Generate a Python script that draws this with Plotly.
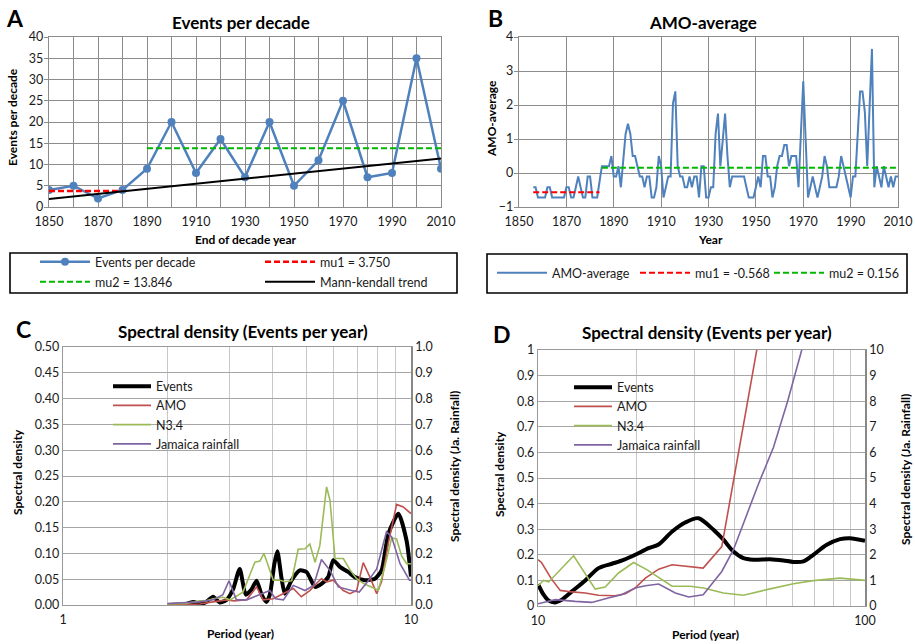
import plotly.graph_objects as go

W, H = 915, 644
def px(x): return x / W
def py(y): return 1 - y / H

FONT = "Lato, 'Open Sans', sans-serif"
TXT = "#1a1a1a"

# ---------------- Panel A: events per decade ----------------
decade_years = [1850, 1860, 1870, 1880, 1890, 1900, 1910, 1920, 1930, 1940,
                1950, 1960, 1970, 1980, 1990, 2000, 2010]
events_per_decade = [4, 5, 2, 4, 9, 20, 8, 16, 7, 20, 5, 11, 25, 7, 8, 35, 9]
mu1_a_years = [1850, 1880]
mu1_a = 3.750
mu2_a_years = [1890, 2010]
mu2_a = 13.846
trend_years = [1850, 2010]
trend_vals = [1.9, 11.4]

# ---------------- Panel B: AMO-average ----------------
amo_start = 1856
amo_vals = [
    -0.42, -0.42, -0.72, -0.72, -0.72, -0.72, -0.42, -0.42, -0.72, -0.72,   # 1856-1865
    -0.72, -0.72, -0.72, -0.72, -0.42, -0.42, -0.72, -0.72, -0.42, -0.10,   # 1866-1875
    -0.42, -0.72, -0.72, -0.10, -0.10, -0.72, -0.72, -0.72, -0.25, 0.20,    # 1876-1885
    0.20, 0.20, 0.20, 0.50, -0.10, -0.10, 0.20, -0.42, 0.50, 1.15,          # 1886-1895
    1.45, 1.15, 0.50, 0.50, 0.20, -0.10, -0.10, -0.42, -0.10, -0.10,        # 1896-1905
    -0.72, -0.72, -0.42, 0.50, 0.20, -0.72, -0.42, -0.10, -0.10, 2.05,      # 1906-1915
    2.40, 0.20, -0.10, -0.10, -0.42, -0.42, -0.10, -0.42, -0.10, -0.10,     # 1916-1925
    -0.72, 0.20, 0.20, -0.72, -0.72, -0.42, -0.42, 1.15, 1.75, 0.20,        # 1926-1935
    0.95, 1.75, 0.50, -0.42, -0.10, -0.10, -0.10, -0.10, -0.10, -0.10,      # 1936-1945
    -0.42, -0.72, -0.72, -0.72, -0.42, -0.10, -0.42, 0.50, 0.50, -0.10,     # 1946-1955
    -0.10, -0.72, -0.42, 0.20, 0.50, 0.50, 0.82, 0.82, 0.20, 0.50,          # 1956-1965
    0.50, 0.50, -0.42, 1.15, 2.70, 1.00, -0.72, -0.42, -0.10, -0.42,        # 1966-1975
    -0.72, -0.42, -0.10, 0.50, 0.20, -0.42, -0.42, -0.42, -0.42, -0.10,     # 1976-1985
    0.50, 0.20, -0.10, -0.42, -0.72, -0.10, -0.10, 1.15, 2.40, 2.40,        # 1986-1995
    1.80, 0.20, 2.00, 3.65, -0.42, 0.20, -0.10, -0.42, 0.20, -0.10,         # 1996-2005
    -0.42, -0.10, -0.42, -0.10, -0.10,                                      # 2006-2010
]
amo_years = list(range(amo_start, amo_start + len(amo_vals)))
mu1_b_years = [1856, 1884]
mu1_b = -0.568
mu2_b_years = [1885, 2010]
mu2_b = 0.156

# ---------------- Panel C: spectral density, periods 1-10 yr ----------------
ev_c_period = [2.00, 2.26, 2.37, 2.47, 2.58, 2.70, 2.82, 2.95, 3.08, 3.22, 3.35, 3.48,
               3.60, 3.72, 3.84, 3.93, 4.05, 4.13, 4.25, 4.34, 4.54, 4.79, 5.01, 5.30,
               5.53, 5.78, 5.98, 6.25, 6.60, 6.90, 7.37, 7.88, 8.23, 8.61, 9.20, 9.71, 10.0]
ev_c = [0.000, 0.002, 0.006, 0.002, 0.006, 0.016, 0.005, 0.010, 0.030, 0.070, 0.020, 0.030,
        0.047, 0.020, 0.006, 0.020, 0.080, 0.104, 0.050, 0.022, 0.048, 0.067, 0.064, 0.035,
        0.041, 0.054, 0.087, 0.074, 0.064, 0.054, 0.048, 0.051, 0.067, 0.138, 0.177, 0.125, 0.055]

amo_c_period = [2.00, 2.47, 2.70, 2.95, 3.10, 3.37, 3.60, 3.76, 4.02, 4.30, 4.59, 4.84, 5.12,
                5.41, 5.53, 5.72, 5.98, 6.39, 6.68, 6.98, 7.29, 7.62, 7.97, 8.23, 8.61, 9.09,
                9.50, 10.0]
amo_c = [0.000, 0.002, 0.006, 0.010, 0.008, 0.010, 0.035, 0.010, 0.012, 0.022, 0.032, 0.016,
         0.028, 0.045, 0.051, 0.045, 0.048, 0.028, 0.022, 0.028, 0.082, 0.054, 0.022, 0.045,
         0.120, 0.195, 0.190, 0.177]

n34_c_period = [2.00, 2.26, 2.47, 2.58, 2.70, 2.88, 3.02, 3.29, 3.45, 3.56, 3.68, 3.78, 4.02,
                4.20, 4.34, 4.54, 4.74, 4.96, 5.12, 5.30, 5.47, 5.72, 5.85, 6.05, 6.39, 6.68,
                6.98, 7.37, 7.88, 8.05, 8.41, 8.80, 9.09, 9.40, 9.71, 10.0]
n34_c = [0.002, 0.003, 0.008, 0.008, 0.012, 0.015, 0.010, 0.025, 0.060, 0.083, 0.085, 0.100,
         0.048, 0.048, 0.045, 0.047, 0.108, 0.109, 0.118, 0.083, 0.115, 0.229, 0.203, 0.090,
         0.090, 0.068, 0.051, 0.040, 0.032, 0.028, 0.074, 0.130, 0.128, 0.095, 0.080, 0.080]

jam_c_period = [2.00, 2.26, 2.47, 2.70, 2.88, 3.00, 3.15, 3.37, 3.66, 3.93, 4.08, 4.30, 4.59,
                4.96, 5.25, 5.53, 5.85, 6.18, 6.75, 7.10, 7.50, 7.97, 8.50, 8.80, 9.30, 9.90, 10.0]
jam_c = [0.006, 0.008, 0.012, 0.020, 0.040, 0.094, 0.020, 0.020, 0.038, 0.056, 0.024, 0.020,
         0.076, 0.056, 0.076, 0.176, 0.134, 0.070, 0.056, 0.050, 0.090, 0.140, 0.284, 0.264,
         0.160, 0.096, 0.096]   # right axis (Ja. Rainfall)

# ---------------- Panel D: spectral density, periods 10-100 yr ----------------
ev_d_period = [10.0, 10.4, 10.78, 11.3, 11.84, 12.7, 13.95, 15.32, 16.83, 18.27, 19.83, 21.78,
               23.37, 25.67, 28.19, 30.96, 34.4, 36.9, 39.6, 42.5, 45.6, 51.3, 56.3, 60.4,
               64.8, 69.5, 76.4, 83.9, 89.9, 100.0]
ev_d = [0.085, 0.044, 0.021, 0.014, 0.025, 0.057, 0.100, 0.148, 0.165, 0.180, 0.200, 0.226,
        0.240, 0.290, 0.326, 0.343, 0.298, 0.259, 0.213, 0.187, 0.181, 0.183, 0.178, 0.172,
        0.174, 0.200, 0.239, 0.261, 0.265, 0.255]

amo_d_period = [10.0, 10.25, 11.0, 11.7, 12.7, 13.95, 15.3, 17.2, 18.5, 19.8, 21.3, 23.4,
                25.7, 28.2, 32.0, 36.48, 46.67, 50.0]
amo_d = [0.181, 0.170, 0.105, 0.061, 0.055, 0.051, 0.042, 0.040, 0.048, 0.070, 0.109, 0.144,
         0.161, 0.155, 0.148, 0.232, 1.000, 1.215]

n34_d_period = [10.0, 10.4, 10.78, 11.7, 12.85, 14.96, 16.05, 17.63, 19.6, 21.5, 23.6, 25.7,
                29.2, 32.07, 36.9, 42.5, 50.1, 60.4, 69.5, 83.9, 100.0]
n34_d = [0.079, 0.100, 0.094, 0.142, 0.196, 0.066, 0.074, 0.129, 0.170, 0.142, 0.109, 0.077,
         0.077, 0.070, 0.051, 0.042, 0.064, 0.087, 0.099, 0.109, 0.100]

jam_d_period = [10.0, 11.3, 13.0, 14.6, 16.4, 18.0, 19.8, 21.3, 23.4, 26.3, 28.9, 32.0, 36.48,
                39.6, 43.0, 47.0, 52.5, 58.0, 64.05, 70.0]
jam_d = [0.09, 0.25, 0.18, 0.14, 0.31, 0.44, 0.70, 0.79, 0.86, 0.51, 0.35, 0.44, 1.35,
         2.20, 3.40, 4.70, 6.20, 8.00, 10.00, 11.80]   # right axis (Ja. Rainfall)

# colours
BLUE = "#4F81BD"
RED_D = "#FF0000"
GRN_D = "#00B800"
C_RED = "#C0504D"
C_GRN = "#9BBB59"
C_PUR = "#8064A2"

fig = go.Figure()

# ---- A ----
fig.add_trace(go.Scatter(x=decade_years, y=events_per_decade, mode="lines+markers",
                         name="Events per decade", line=dict(color=BLUE, width=2.5),
                         marker=dict(size=8, color=BLUE), xaxis="x", yaxis="y", legend="legend"))
fig.add_trace(go.Scatter(x=mu1_a_years, y=[mu1_a] * len(mu1_a_years), mode="lines",
                         name="mu1 = 3.750", line=dict(color=RED_D, width=2.5, dash="6px,3px"),
                         xaxis="x", yaxis="y", legend="legend"))
fig.add_trace(go.Scatter(x=mu2_a_years, y=[mu2_a] * len(mu2_a_years), mode="lines",
                         name="mu2 = 13.846", line=dict(color=GRN_D, width=2, dash="6px,3px"),
                         xaxis="x", yaxis="y", legend="legend2"))
fig.add_trace(go.Scatter(x=trend_years, y=trend_vals, mode="lines",
                         name="Mann-kendall trend", line=dict(color="black", width=2),
                         xaxis="x", yaxis="y", legend="legend2"))

# ---- B ----
fig.add_trace(go.Scatter(x=amo_years, y=amo_vals, mode="lines", name="AMO-average",
                         line=dict(color=BLUE, width=2), xaxis="x2", yaxis="y2", legend="legend3"))
fig.add_trace(go.Scatter(x=mu1_b_years, y=[mu1_b] * 2, mode="lines", name="mu1 = -0.568",
                         line=dict(color=RED_D, width=2, dash="6px,3px"),
                         xaxis="x2", yaxis="y2", legend="legend3"))
fig.add_trace(go.Scatter(x=mu2_b_years, y=[mu2_b] * 2, mode="lines", name="mu2 = 0.156",
                         line=dict(color=GRN_D, width=2, dash="6px,3px"),
                         xaxis="x2", yaxis="y2", legend="legend6"))

# ---- C ----
fig.add_trace(go.Scatter(x=ev_c_period, y=ev_c, mode="lines", name="Events",
                         line=dict(color="black", width=4, shape="spline", smoothing=0.6),
                         xaxis="x3", yaxis="y3", legend="legend4"))
fig.add_trace(go.Scatter(x=amo_c_period, y=amo_c, mode="lines", name="AMO",
                         line=dict(color=C_RED, width=1.6), xaxis="x3", yaxis="y3", legend="legend4"))
fig.add_trace(go.Scatter(x=n34_c_period, y=n34_c, mode="lines", name="N3.4",
                         line=dict(color=C_GRN, width=1.6), xaxis="x3", yaxis="y3", legend="legend4"))
fig.add_trace(go.Scatter(x=jam_c_period, y=jam_c, mode="lines", name="Jamaica rainfall",
                         line=dict(color=C_PUR, width=1.6), xaxis="x3", yaxis="y4", legend="legend4"))

# ---- D ----
fig.add_trace(go.Scatter(x=ev_d_period, y=ev_d, mode="lines", name="Events",
                         line=dict(color="black", width=4, shape="spline", smoothing=0.8),
                         xaxis="x4", yaxis="y5", legend="legend5"))
fig.add_trace(go.Scatter(x=amo_d_period, y=amo_d, mode="lines", name="AMO",
                         line=dict(color=C_RED, width=1.6), xaxis="x4", yaxis="y5", legend="legend5"))
fig.add_trace(go.Scatter(x=n34_d_period, y=n34_d, mode="lines", name="N3.4",
                         line=dict(color=C_GRN, width=1.6), xaxis="x4", yaxis="y5", legend="legend5"))
fig.add_trace(go.Scatter(x=jam_d_period, y=jam_d, mode="lines", name="Jamaica rainfall",
                         line=dict(color=C_PUR, width=1.6), xaxis="x4", yaxis="y6", legend="legend5"))

GRID_AB = "#8C8C8C"
tickfont = dict(family=FONT, size=12.5, color=TXT)

def lin_axis(**kw):
    d = dict(showgrid=True, gridcolor=GRID_AB, gridwidth=1.3, showline=True, linecolor=GRID_AB,
             linewidth=1.3, mirror=True, zeroline=False, tickfont=tickfont, fixedrange=True,
             automargin=False)
    d.update(kw)
    return d

a_ticktext = [str(y) if (y - 1850) % 20 == 0 else "" for y in decade_years]
log_c_vals = [1, 2, 3, 4, 5, 6, 7, 8, 9, 10]
log_c_text = ["1", "", "", "", "", "", "", "", "", "10"]
log_d_vals = [10, 20, 30, 40, 50, 60, 70, 80, 90, 100]
log_d_text = ["10", "", "", "", "", "", "", "", "", "100"]

spec_common = dict(tickfont=tickfont, zeroline=False, fixedrange=True, automargin=False)

fig.update_layout(
    width=W, height=H, margin=dict(l=0, r=0, t=0, b=0, pad=0, autoexpand=False),
    paper_bgcolor="white", plot_bgcolor="white",
    font=dict(family=FONT, size=12, color=TXT),
    xaxis=lin_axis(domain=[px(49), px(441)], range=[1850, 2010], tickvals=decade_years,
                   ticktext=a_ticktext, anchor="y", ticks="", ticklabelstandoff=3),
    yaxis=lin_axis(domain=[py(207), py(37)], range=[0, 40], dtick=5, anchor="x",
                   ticks="outside", ticklen=4, tickcolor=GRID_AB, ticklabelstandoff=-2),
    xaxis2=lin_axis(domain=[px(519), px(898)], range=[1850, 2010], dtick=20, tick0=1850,
                    anchor="y2", ticks="", ticklabelstandoff=3),
    yaxis2=lin_axis(domain=[py(207), py(37)], range=[-1, 4], dtick=1, anchor="x2",
                    ticks="outside", ticklen=4, tickcolor=GRID_AB, ticklabelstandoff=-2),
    xaxis3=dict(domain=[px(63), px(411)], type="log", range=[0, 1], tickvals=log_c_vals,
                ticktext=log_c_text, showgrid=True, gridcolor="#C8C8C8", gridwidth=1.3,
                showline=True, linecolor="#999999", linewidth=1.3, mirror=True, anchor="y3",
                ticklabelstandoff=3, **spec_common),
    yaxis3=dict(domain=[py(605), py(347)], range=[0, 0.5], dtick=0.05, tickformat=".2f",
                showgrid=True, gridcolor="#A6A6A6", gridwidth=1.3, showline=True,
                linecolor="#999999", linewidth=1.3, anchor="x3", **spec_common),
    yaxis4=dict(overlaying="y3", side="right", range=[0, 1], dtick=0.1, tickformat=".1f",
                showgrid=False, showline=True, linecolor="#888888", linewidth=1.6,
                anchor="x3", **spec_common),
    xaxis4=dict(domain=[px(538), px(865)], type="log", range=[1, 2], tickvals=log_d_vals,
                ticktext=log_d_text, showgrid=True, gridcolor="#C8C8C8", gridwidth=1.3,
                showline=True, linecolor="#999999", linewidth=1.3, mirror=True, anchor="y5",
                ticklabelstandoff=3, **spec_common),
    yaxis5=dict(domain=[py(606), py(350)], range=[0, 1], dtick=0.1,
                showgrid=True, gridcolor="#A6A6A6", gridwidth=1.3, showline=True,
                linecolor="#999999", linewidth=1.3, anchor="x4", **spec_common),
    yaxis6=dict(overlaying="y5", side="right", range=[0, 10], dtick=1,
                showgrid=False, showline=True, linecolor="#888888", linewidth=1.6,
                anchor="x4", **spec_common),
)

leg_font = dict(family=FONT, size=12.5, color=TXT)
common_leg = dict(bgcolor="rgba(0,0,0,0)", borderwidth=0, font=leg_font, traceorder="normal",
                  xanchor="left", yanchor="middle")
fig.update_layout(
    legend=dict(orientation="h", x=px(35), y=py(262), entrywidth=160, itemwidth=50, **common_leg),
    legend2=dict(orientation="h", x=px(35), y=py(282), entrywidth=160, itemwidth=50, **common_leg),
    legend3=dict(orientation="h", x=px(492), y=py(273), entrywidth=78, itemwidth=50, **common_leg),
    legend6=dict(orientation="h", x=px(769), y=py(273), itemwidth=50, **common_leg),
    legend4=dict(orientation="v", x=px(108), y=py(415), itemwidth=38, **common_leg),
    legend5=dict(orientation="v", x=px(569), y=py(416), itemwidth=38, **common_leg),
)

# legend boxes
fig.add_shape(type="rect", xref="paper", yref="paper", x0=px(10), x1=px(457), y0=py(293), y1=py(253),
              line=dict(color="black", width=1.6))
fig.add_shape(type="rect", xref="paper", yref="paper", x0=px(487), x1=px(907), y0=py(293), y1=py(254),
              line=dict(color="black", width=1.6))

def ann(text, x, y, size=12, bold=True, angle=0, xanchor="center"):
    fig.add_annotation(text=("<b>%s</b>" % text) if bold else text, x=px(x), y=py(y),
                       xref="paper", yref="paper", showarrow=False, textangle=angle,
                       xanchor=xanchor, yanchor="middle",
                       font=dict(family=FONT, size=size, color="black"))

# panel letters
ann("A", 15, 18, size=23)
ann("B", 495, 18, size=23)
ann("C", 23, 329, size=23)
ann("D", 502, 334, size=23)
# titles
ann("Events per decade", 241, 23, size=17)
ann("AMO-average", 703, 22, size=17)
ann("Spectral density (Events per year)", 243, 331, size=17)
ann("Spectral density (Events per year)", 707, 333, size=17)
# axis titles
ann("End of decade year", 246, 239)
ann("Year", 710, 239)
ann("Period (year)", 241, 633)
ann("Period (year)", 705, 634)
ann("Events per decade", 13, 117, angle=-90)
ann("AMO-average", 492, 119, angle=-90)
ann("Spectral density", 17, 472, angle=-90)
ann("Spectral density (Ja. Rainfall)", 455, 467, angle=-90)
ann("Spectral density", 499, 474, angle=-90)
ann("Spectral density (Ja. Rainfall)", 905, 470, angle=-90)

fig.write_html("out.html", config={"displayModeBar": False},
               post_script="document.body.style.margin='0px';")
